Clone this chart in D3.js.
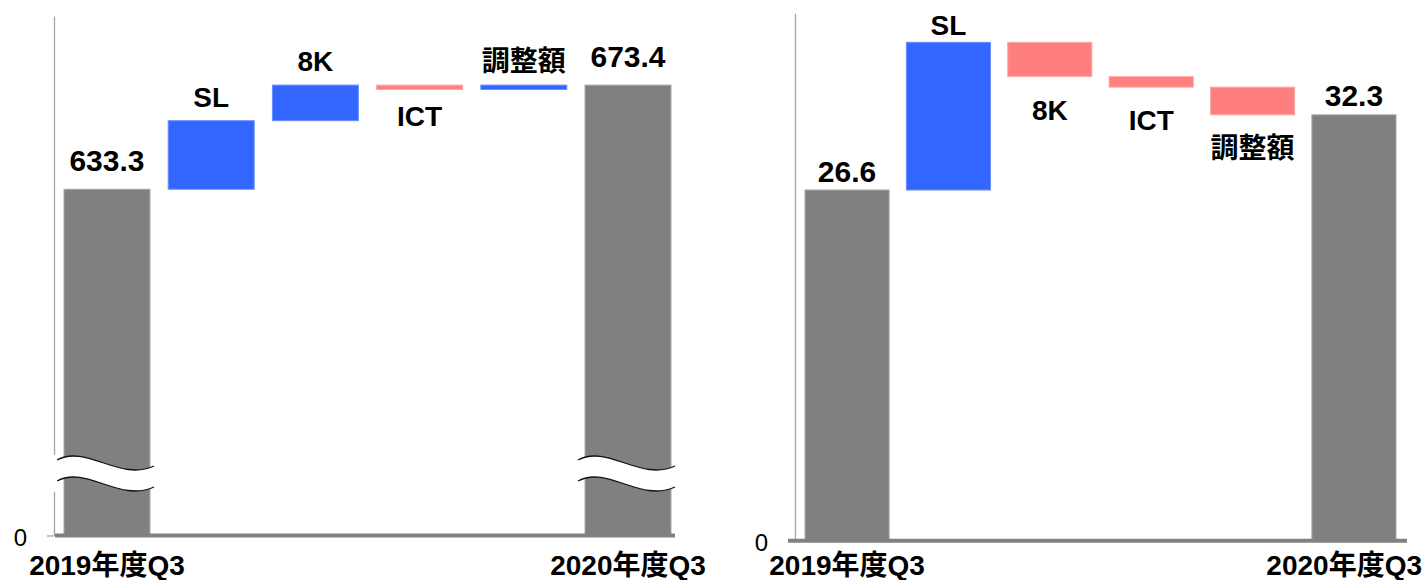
<!DOCTYPE html>
<html>
<head>
<meta charset="utf-8">
<script src="https://cdn.jsdelivr.net/npm/d3@7"></script>
<style>
body { margin: 0; background: #fff; }
text { font-family: "Liberation Sans", Arial, "Noto Sans CJK JP", sans-serif; }
</style>
</head>
<body>
<svg id="chart" width="1426" height="580"></svg>
<script>
// data
const categories = ["2019年度Q3", "SL", "8K", "ICT", "調整額", "2020年度Q3"];
const salesValues = [633.3, 26.4, 13.7, -1.7, 1.7, 673.4];   // left panel (broken axis)
const profitValues = [26.6, 11.2, -2.6, -0.8, -2.1, 32.3];   // right panel
const salesDomain = [500, 700];
const profitDomain = [0, 40];
const zeroLabel = ["0"];

const cols = { total: "#808080", up: "#3366ff", down: "#ff7f7f" };
const edges = { total: "#a8a8a8", up: "#6a8eff", down: "#ffaaaa" };

const svg = d3.select("#chart");

function steps(values, floor) {
    let run = 0;
    return values.map((v, i) => {
        let d;
        if (i == 0 || i == values.length - 1) {
            d = { i: i, v: v, lo: floor, hi: v, kind: "total" };
            run = v;
        } else {
            d = { i: i, v: v, lo: Math.min(run, run + v), hi: Math.max(run, run + v), kind: v >= 0 ? "up" : "down" };
            run += v;
        }
        return d;
    });
}

function draw(values, domain, cfg) {
    const g = svg.append("g");
    const data = steps(values, domain[0]);

    const x = d3.scaleBand()
        .domain(categories)
        .range(cfg.xRange)
        .paddingInner(cfg.pad)
        .paddingOuter(0);
    const y = d3.scaleLinear().domain(domain).range(cfg.yRange);
    const bw = x.bandwidth();

    // y axis (only the zero tick)
    const yAxis = g.append("g")
        .attr("transform", `translate(${cfg.axisX},0)`)
        .call(d3.axisLeft(y)
            .tickValues([domain[0]])
            .tickFormat((d, i) => zeroLabel[i])
            .tickSize(7)
            .tickSizeOuter(0));
    yAxis.select(".domain").attr("stroke", "#a6a6a6").attr("stroke-width", 1.3);
    yAxis.selectAll(".tick line").attr("stroke", "#a6a6a6").attr("stroke-width", 1.3);
    yAxis.selectAll(".tick text").remove();
    // zero label drawn as its own text so the size sticks
    yAxis.append("text")
        .attr("x", -27)
        .attr("y", y(domain[0]))
        .attr("dy", "0.42em")
        .attr("text-anchor", "end")
        .attr("fill", "#000")
        .style("font-size", "24px")
        .text(zeroLabel[0]);

    // bars
    g.append("g")
        .selectAll("rect")
        .data(data)
        .enter()
        .append("rect")
        .attr("x", d => x(categories[d.i]))
        .attr("y", d => y(d.hi))
        .attr("width", bw)
        .attr("height", d => y(d.lo) - y(d.hi))
        .attr("fill", d => cols[d.kind])
        .attr("stroke", d => edges[d.kind])
        .attr("stroke-width", 1);

    // axis break on the total bars
    if (cfg.brk) {
        const b = cfg.brk;
        data.filter(d => d.kind == "total").forEach(d => {
            const x0 = x(categories[d.i]) - 7;
            const w = bw + 11;
            const curve = (yy) => `M${x0},${yy} C${x0 + w * 0.3},${yy - 16} ${x0 + w * 0.65},${yy + 22} ${x0 + w},${yy + 6}`;
            const back = (yy) => `L${x0 + w},${yy + 6} C${x0 + w * 0.65},${yy + 22} ${x0 + w * 0.3},${yy - 16} ${x0},${yy}`;
            g.append("path")
                .attr("d", curve(b) + back(b + 21) + "Z")
                .attr("fill", "#fff");
            g.append("path").attr("d", curve(b)).attr("fill", "none").attr("stroke", "#111").attr("stroke-width", 1.3);
            g.append("path").attr("d", curve(b + 21)).attr("fill", "none").attr("stroke", "#111").attr("stroke-width", 1.3);
        });
        g.append("rect")
            .attr("x", cfg.axisX - 2)
            .attr("y", b - 5)
            .attr("width", 5)
            .attr("height", 37)
            .attr("fill", "#fff");
    }

    // baseline
    g.append("line")
        .attr("x1", cfg.baseFrom)
        .attr("x2", cfg.baseTo)
        .attr("y1", y(domain[0]))
        .attr("y2", y(domain[0]))
        .attr("stroke", "#808080")
        .attr("stroke-width", 4);

    // bar labels
    g.append("g")
        .selectAll("text")
        .data(data)
        .enter()
        .append("text")
        .attr("x", d => x(categories[d.i]) + bw / 2)
        .attr("y", d => {
            if (d.kind == "total") return y(d.hi) - cfg.gapTotal;
            if (d.kind == "up") return y(d.hi) - cfg.gapUp;
            return y(d.lo) + cfg.gapDown;
        })
        .attr("text-anchor", "middle")
        .attr("font-weight", "bold")
        .style("font-size", d => d.kind == "total" ? "30px" : "28px")
        .text(d => d.kind == "total" ? d.v.toFixed(1) : categories[d.i]);

    // category labels (first and last only)
    const xAxis = g.append("g")
        .attr("transform", `translate(0,${y(domain[0])})`)
        .call(d3.axisBottom(x)
            .tickValues([categories[0], categories[categories.length - 1]])
            .tickSize(0));
    xAxis.select(".domain").remove();
    xAxis.selectAll(".tick text")
        .attr("y", 575 - y(domain[0]))
        .attr("dy", 0)
        .attr("fill", "#000")
        .attr("font-weight", "bold")
        .style("font-size", "28px")
        .each(function () {
            const t = d3.select(this);
            const cx = d3.select(this.parentNode).attr("transform").match(/translate\(([\d.]+)/)[1];
            const half = this.getComputedTextLength() / 2;
            if (+cx + half > 1422) t.attr("x", 1422 - half - cx);
        });
}

draw(salesValues, salesDomain, {
    xRange: [64, 671], pad: 0.175, yRange: [535.5, 16],
    axisX: 54, baseFrom: 55, baseTo: 675,
    gapTotal: 18, gapUp: 14, gapDown: 36, brk: 460
});

draw(profitValues, profitDomain, {
    xRange: [805, 1396], pad: 0.17, yRange: [540.8, 13.3],
    axisX: 795, baseFrom: 788, baseTo: 1407,
    gapTotal: 8.5, gapUp: 7, gapDown: 43, brk: null
});
</script>
</body>
</html>
